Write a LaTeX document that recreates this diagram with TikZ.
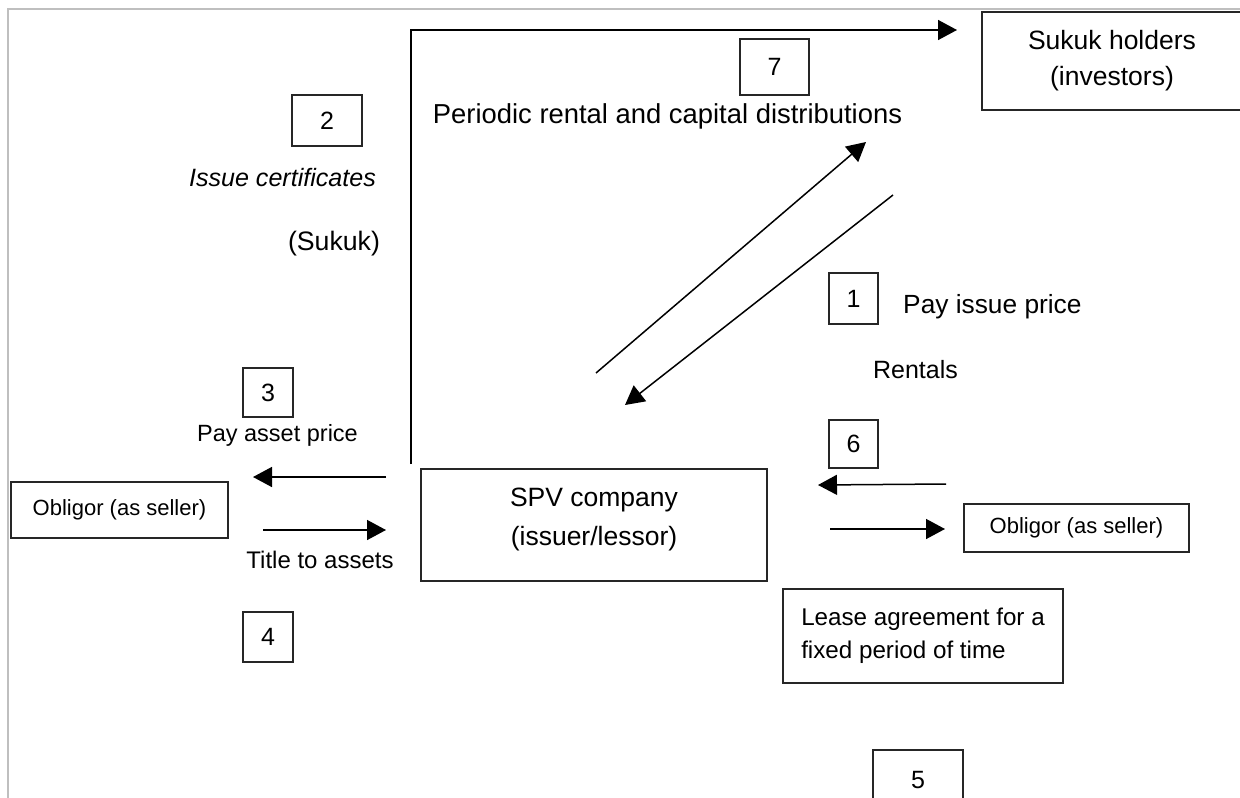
\documentclass[tikz,border=0pt]{standalone}
\usepackage{fontspec}
\setmainfont{Liberation Sans}
\usetikzlibrary{arrows.meta}
\newcommand{\fsA}{\fontsize{26.5}{36}\selectfont}
\newcommand{\fsB}{\fontsize{24}{33}\selectfont}
\newcommand{\fsC}{\fontsize{22}{26}\selectfont}
\newcommand{\fsN}{\fontsize{25}{30}\selectfont}
\tikzset{
  box/.style={draw=black!85, line width=2pt, inner sep=0pt, align=center},
  numbox/.style={box, font=\fsN},
  lbl/.style={inner sep=0pt, anchor=base},
  conn/.style={line width=1.5pt, black},
  arr/.style={conn, -{Triangle[length=19pt,width=20pt]}},
  frame/.style={draw=black!25, line width=2pt}
}
\begin{document}
\begin{tikzpicture}[x=1pt,y=-1pt]
\useasboundingbox (0,0) rectangle (1240,798);
% outer frame (top and left edges only visible)
\draw[frame] (7,9) -- (1250,9);
\draw[frame] (8,9) -- (8,810);

% boxes
\node[box, font=\fsA, minimum width=260, minimum height=98] (sukuk) at (1112,61) {Sukuk holders\\(investors)};
\node[numbox, minimum width=69, minimum height=56] (n7) at (774.5,67) {7};
\node[numbox, minimum width=70, minimum height=51] (n2) at (327,120.5) {2};
\node[numbox, minimum width=49, minimum height=51] (n1) at (853.5,298.5) {1};
\node[numbox, minimum width=49, minimum height=48] (n6) at (853.5,444) {6};
\node[numbox, minimum width=50, minimum height=49] (n3) at (268,392.5) {3};
\node[numbox, minimum width=50, minimum height=50] (n4) at (268,637) {4};
\node[numbox, minimum width=90, minimum height=60] (n5) at (918,780) {5};
\node[box, minimum width=217, minimum height=56, font=\fsC] (oblL) at (119.5,510) {Obligor (as seller)};
\node[box, minimum width=225, minimum height=48, font=\fsC] (oblR) at (1076.5,528) {Obligor (as seller)};
\node[box, minimum width=346, minimum height=112] (spv) at (594,525) {};
\node[inner sep=0pt, align=center, font=\fontsize{26.5}{39}\selectfont] (spvt) at (594,519) {SPV company\\(issuer/lessor)};
\node[box, minimum width=280, minimum height=94, align=left, font=\fontsize{24.2}{33}\selectfont] (lease) at (923,636) {Lease agreement for a\\fixed period of time};

% labels
\node[lbl, font=\fontsize{27.4}{30}\selectfont] (periodic) at (667.5,123) {Periodic rental and capital distributions};
\node[lbl, font=\fontsize{25.1}{30}\itshape\selectfont] (issue) at (282.5,186) {Issue certificates};
\node[lbl, font=\fontsize{26.7}{30}\selectfont] (sukukp) at (334,250) {(Sukuk)};
\node[lbl, anchor=base west, font=\fontsize{26.3}{30}\selectfont] (payissue) at (903,313) {Pay issue price};
\node[lbl, font=\fontsize{25}{30}\selectfont] (rentals) at (915.5,378) {Rentals};
\node[lbl, font=\fontsize{23.5}{30}\selectfont] (payasset) at (277.5,441) {Pay asset price};
\node[lbl, font=\fsB] (title) at (320,568) {Title to assets};

% connector end points
\coordinate (t7a) at (411,464);
\coordinate (t7b) at (411,30);
\coordinate (t7c) at (957,30);
\coordinate (d1s) at (596,373);
\coordinate (d1e) at (866,142);
\coordinate (d2s) at (893,195);
\coordinate (d2e) at (625,405);
\coordinate (l1s) at (386,477);
\coordinate (l1e) at (253,477);
\coordinate (l2s) at (263,530);
\coordinate (l2e) at (386,530);
\coordinate (r1s) at (946,484);
\coordinate (r1e) at (818,485);
\coordinate (r2s) at (830,529);
\coordinate (r2e) at (945,529);

% connectors
\draw[arr] (t7a) -- (t7b) -- (t7c);
\draw[arr] (d1s) -- (d1e);
\draw[arr] (d2s) -- (d2e);
\draw[arr] (l1s) -- (l1e);
\draw[arr] (l2s) -- (l2e);
\draw[arr] (r1s) -- (r1e);
\draw[arr] (r2s) -- (r2e);
\end{tikzpicture}
\end{document}
